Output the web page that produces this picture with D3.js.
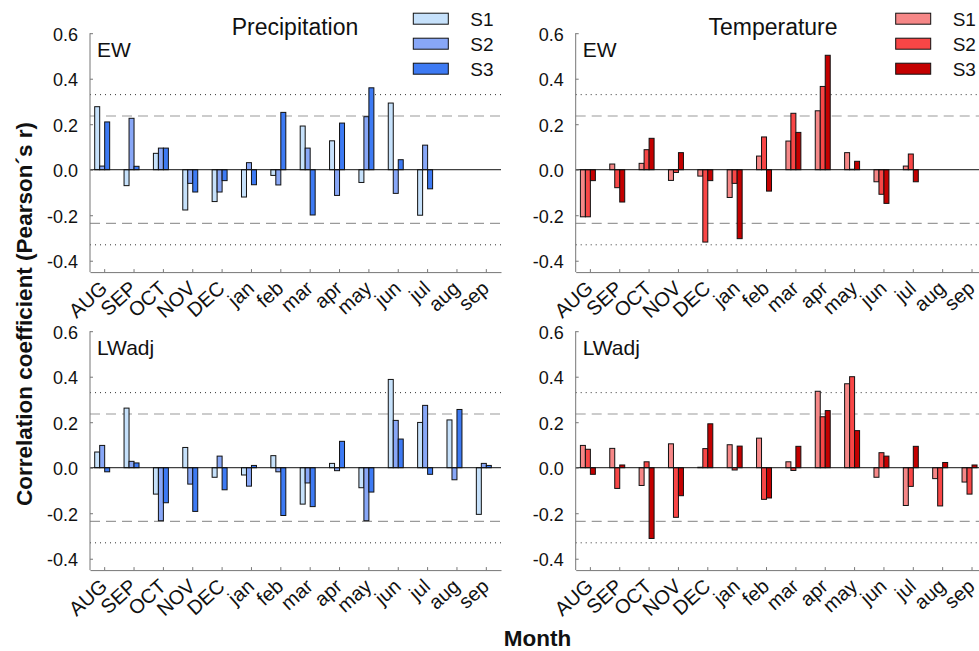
<!DOCTYPE html>
<html><head><meta charset="utf-8">
<script src="https://cdn.jsdelivr.net/npm/d3@7"></script>
<style>body{margin:0;background:#fff}svg{display:block;font-family:"Liberation Sans",Arial,sans-serif}</style>
</head><body>
<svg id="c" width="979" height="651"></svg>
<script>
const months = ["AUG","SEP","OCT","NOV","DEC","jan","feb","mar","apr","may","jun","jul","aug","sep"];
const seriesNames = ["S1","S2","S3"];
const yTicks = [-0.4,-0.2,0.0,0.2,0.4,0.6];
const sig05 = 0.236, sig01 = 0.33;

// Precipitation, EW
const precipEW_S1 = [0.277,-0.07,0.072,-0.177,-0.14,-0.12,-0.025,0.192,0.127,-0.056,0.293,-0.2,null,null];
const precipEW_S2 = [0.016,0.226,0.095,-0.06,-0.098,0.031,-0.067,0.095,-0.113,0.233,-0.104,0.108,null,null];
const precipEW_S3 = [0.21,0.015,0.095,-0.098,-0.048,-0.066,0.252,-0.199,0.205,0.36,0.044,-0.084,null,null];
// Temperature, EW
const tempEW_S1 = [-0.207,0.025,0.028,-0.047,-0.028,-0.122,0.06,0.126,0.259,0.075,-0.053,0.016,null,null];
const tempEW_S2 = [-0.207,-0.079,0.088,-0.012,-0.318,-0.06,0.144,0.248,0.366,0.002,-0.108,0.069,null,null];
const tempEW_S3 = [-0.048,-0.142,0.138,0.075,-0.048,-0.303,-0.094,0.164,0.503,0.037,-0.148,-0.053,null,null];
// Precipitation, LWadj
const precipLW_S1 = [0.069,0.262,-0.116,0.089,-0.042,-0.032,0.053,-0.16,0.019,-0.088,0.388,0.199,0.21,-0.205];
const precipLW_S2 = [0.098,0.028,-0.233,-0.072,0.051,-0.081,-0.018,-0.067,-0.013,-0.233,0.208,0.274,-0.053,0.019];
const precipLW_S3 = [-0.018,0.021,-0.154,-0.192,-0.097,0.01,-0.21,-0.171,0.116,-0.107,0.126,-0.029,0.256,0.01];
// Temperature, LWadj
const tempLW_S1 = [0.098,0.085,-0.078,0.105,0.002,0.101,0.13,0.026,0.336,0.369,-0.042,-0.166,-0.048,-0.063];
const tempLW_S2 = [0.081,-0.091,0.026,-0.218,0.084,-0.01,-0.139,-0.012,0.224,0.4,0.066,-0.082,-0.168,-0.116];
const tempLW_S3 = [-0.029,0.012,-0.311,-0.123,0.193,0.095,-0.133,0.094,0.251,0.163,0.051,0.094,0.023,0.012];

const precipColors = ["#c6e1fb","#88a7f7","#3d7af3"];
const tempColors = ["#f68787","#f84646","#c40000"];

const svg = d3.select("#c");
const panelW = 411, panelH = 238.9;
const panels = [
  {x:90, y:33.2, label:"EW", data:[precipEW_S1,precipEW_S2,precipEW_S3], colors:precipColors},
  {x:575.7, y:33.2, label:"EW", data:[tempEW_S1,tempEW_S2,tempEW_S3], colors:tempColors},
  {x:90, y:331.2, label:"LWadj", data:[precipLW_S1,precipLW_S2,precipLW_S3], colors:precipColors},
  {x:575.7, y:331.2, label:"LWadj", data:[tempLW_S1,tempLW_S2,tempLW_S3], colors:tempColors}
];

panels.forEach(p => {
  const g = svg.append("g").attr("transform", `translate(${p.x},${p.y})`);
  const x = d3.scaleBand().domain(months).range([0, panelW]);
  const bw = x.bandwidth();
  const xs = d3.scaleBand().domain(seriesNames).range([-0.34*bw, 0.17*bw]);
  const y = d3.scaleLinear().domain([-0.45, 0.6]).range([panelH, 0]);

  // reference lines
  [sig05, -sig05].forEach(v => g.append("line").attr("x1",0).attr("x2",panelW)
    .attr("y1",y(v)).attr("y2",y(v)).attr("stroke","#9a9a9a").attr("stroke-width",1.2).attr("stroke-dasharray","10,6"));
  [sig01, -sig01].forEach(v => g.append("line").attr("x1",0).attr("x2",panelW)
    .attr("y1",y(v)).attr("y2",y(v)).attr("stroke","#333").attr("stroke-width",1).attr("stroke-dasharray","1,4"));

  // bars
  seriesNames.forEach((s, si) => {
    const vals = p.data[si];
    g.append("g").selectAll("rect")
      .data(months.map((m,i)=>({m, v: vals[i]})).filter(d => d.v !== null))
      .join("rect")
      .attr("x", d => x(d.m) + bw/2 + xs(s))
      .attr("width", xs.bandwidth())
      .attr("y", d => y(Math.max(0, d.v)))
      .attr("height", d => Math.abs(y(d.v) - y(0)))
      .attr("fill", p.colors[si]).attr("stroke", "#111").attr("stroke-width", 1);
  });

  // zero line
  g.append("line").attr("x1",0).attr("x2",panelW).attr("y1",y(0)).attr("y2",y(0))
    .attr("stroke","#111").attr("stroke-width",1);

  // y axis
  const ya = g.append("g").call(d3.axisLeft(y).tickValues(yTicks).tickFormat(d3.format(".1f")).tickSizeInner(-3).tickSizeOuter(0).tickPadding(12));
  ya.select(".domain").attr("stroke","#777").attr("d", `M0,0V${panelH}`);
  ya.selectAll(".tick line").attr("stroke","#777");
  ya.selectAll("text").attr("font-size","18px").attr("fill","#111").attr("dy","0.38em")
    .text(d => d3.format(".1f")(d).replace("−","-"));

  // x axis
  const xa = g.append("g").attr("transform",`translate(0,${panelH})`)
    .call(d3.axisBottom(x).tickSizeInner(-3).tickSizeOuter(0));
  xa.select(".domain").attr("stroke","#777");
  xa.selectAll(".tick line").attr("stroke","#777");
  xa.selectAll("text").attr("font-size","20px").attr("fill","#111")
    .attr("text-anchor","end").attr("dy",null).attr("y",0)
    .attr("transform","translate(4,18) rotate(-42)");

  g.append("text").attr("x",7).attr("y",24).attr("font-size","21px").attr("fill","#111").text(p.label);
});

// titles
svg.append("text").attr("x",295).attr("y",35).attr("text-anchor","middle").attr("font-size","23px").attr("fill","#111").text("Precipitation");
svg.append("text").attr("x",773).attr("y",35).attr("text-anchor","middle").attr("font-size","23px").attr("fill","#111").text("Temperature");

// legends
function legend(x0, colors) {
  const lg = svg.append("g");
  seriesNames.forEach((s,i) => {
    const cy = 18.7 + 25*i;
    lg.append("rect").attr("x",x0).attr("y",cy-5.5).attr("width",35).attr("height",11)
      .attr("fill",colors[i]).attr("stroke","#111").attr("stroke-width",1);
    lg.append("text").attr("x",x0+57).attr("y",cy+6.8).attr("font-size","19px").attr("fill","#111").text(s);
  });
}
legend(413.3, precipColors);
legend(895.7, tempColors);

// axis titles
svg.append("text").attr("transform","translate(32,314) rotate(-90)").attr("text-anchor","middle")
  .attr("font-size","22.5px").attr("font-weight","bold").attr("fill","#111").text("Correlation coefficient (Pearson´s r)");
svg.append("text").attr("x",537.5).attr("y",646).attr("text-anchor","middle")
  .attr("font-size","22.5px").attr("font-weight","bold").attr("fill","#111").text("Month");
</script>
</body></html>
